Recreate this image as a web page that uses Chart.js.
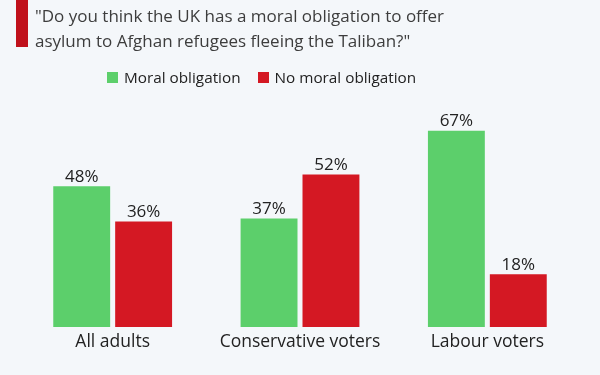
<!DOCTYPE html>
<html lang="en">
<head>
    <meta charset="UTF-8">
    <title>UK moral obligation poll</title>
    <script src="https://cdn.jsdelivr.net/npm/chart.js"></script>
    <style>
        body {
            margin: 0;
            background: #f4f7fa;
            font-family: 'Open Sans', sans-serif;
        }
        .wrap {
            position: relative;
            width: 600px;
            height: 375px;
        }
        .accent {
            position: absolute;
            left: 16px;
            top: 0;
            width: 12px;
            height: 47px;
            background: #c0111b;
        }
        .title {
            position: absolute;
            left: 35px;
            top: 3px;
            font-size: 17px;
            line-height: 25px;
            color: #3d3d3d;
        }
        .legend {
            position: absolute;
            left: 107px;
            top: 66px;
            display: flex;
            font-size: 15.3px;
            line-height: 22px;
            color: #222;
        }
        .legend span.item {
            display: flex;
            align-items: center;
            margin-right: 17px;
        }
        .legend span.box {
            width: 11px;
            height: 11px;
            margin-right: 6px;
        }
        canvas {
            position: absolute;
            left: 0;
            top: 0;
        }
    </style>
</head>
<body>
    <div class="wrap">
        <canvas id="pollChart" width="600" height="375"></canvas>
        <div class="accent"></div>
        <div class="title">"Do you think the UK has a moral obligation to offer<br>asylum to Afghan refugees fleeing the Taliban?"</div>
        <div class="legend" id="legend"></div>
    </div>

    <script>
        const groups = ['All adults', 'Conservative voters', 'Labour voters'];
        const moralObligation = [48, 37, 67];
        const noMoralObligation = [36, 52, 18];

        // value labels above each bar
        const barLabels = {
            id: 'barLabels',
            afterDatasetsDraw(chart) {
                const ctx = chart.ctx;
                ctx.save();
                ctx.font = '17px "Open Sans"';
                ctx.fillStyle = '#222';
                ctx.textAlign = 'center';
                ctx.textBaseline = 'bottom';
                chart.data.datasets.forEach((ds, i) => {
                    chart.getDatasetMeta(i).data.forEach((bar, j) => {
                        ctx.fillText(ds.data[j] + '%', bar.x, bar.y - 1);
                    });
                });
                ctx.restore();
            }
        };

        const chart = new Chart(document.getElementById('pollChart'), {
            type: 'bar',
            data: {
                labels: groups,
                datasets: [
                    {
                        label: 'Moral obligation',
                        data: moralObligation,
                        backgroundColor: '#5ccf6b'
                    },
                    {
                        label: 'No moral obligation',
                        data: noMoralObligation,
                        backgroundColor: '#d41823'
                    }
                ]
            },
            options: {
                responsive: false,
                animation: false,
                categoryPercentage: 0.661,
                barPercentage: 0.919,
                layout: {
                    padding: { top: 99, left: 19, right: 19, bottom: 17 }
                },
                plugins: {
                    legend: { display: false },
                    tooltip: { enabled: false }
                },
                scales: {
                    x: {
                        grid: { display: false, drawTicks: false },
                        border: { display: false },
                        ticks: {
                            color: '#222',
                            padding: 5,
                            font: { family: 'Open Sans', size: 17.5 }
                        }
                    },
                    y: {
                        display: false,
                        min: 0,
                        max: 77.8
                    }
                }
            },
            plugins: [barLabels]
        });

        // legend built from the datasets
        const legendEl = document.getElementById('legend');
        chart.data.datasets.forEach(ds => {
            const item = document.createElement('span');
            item.className = 'item';
            const box = document.createElement('span');
            box.className = 'box';
            box.style.background = ds.backgroundColor;
            item.appendChild(box);
            item.appendChild(document.createTextNode(ds.label));
            legendEl.appendChild(item);
        });
    </script>
</body>
</html>
